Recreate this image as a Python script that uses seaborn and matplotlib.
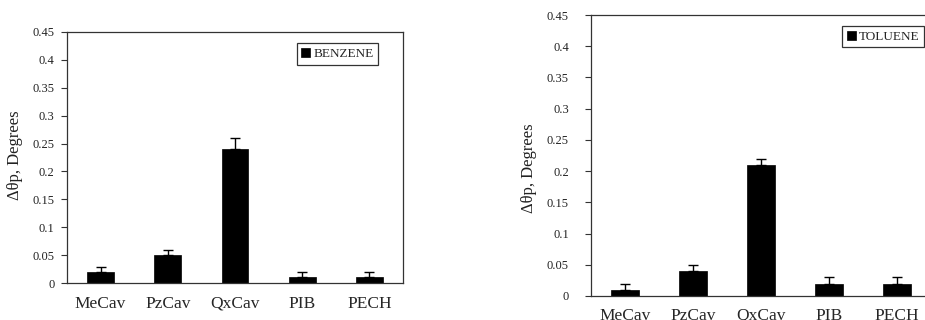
import numpy as np
import pandas as pd
import matplotlib
matplotlib.use("Agg")
import matplotlib.pyplot as plt
import seaborn as sns

categories = ["MeCav", "PzCav", "QxCav", "PIB", "PECH"]
benzene_vals = [0.02, 0.05, 0.24, 0.01, 0.01]
benzene_err = [0.008, 0.01, 0.02, 0.009, 0.009]
toluene_vals = [0.01, 0.04, 0.21, 0.02, 0.02]
toluene_err = [0.01, 0.01, 0.01, 0.01, 0.01]
yticks = [0, 0.05, 0.1, 0.15, 0.2, 0.25, 0.3, 0.35, 0.4, 0.45]
ytick_labels = ["0", "0.05", "0.1", "0.15", "0.2", "0.25", "0.3", "0.35", "0.4", "0.45"]
ylabel = "Δθp, Degrees"

sns.set_style("white")
plt.rcParams["font.family"] = ["Liberation Serif", "DejaVu Serif"]

fig = plt.figure(figsize=(9.25, 3.2), dpi=100)
ax1 = fig.add_axes([67/925, 37/320, 336/925, 251/320])
ax2 = fig.add_axes([591/925, 24/320, 340/925, 281/320])


def draw(ax, vals, err, name, legend_anchor, ypad, xpad, label_xy):
    df = pd.DataFrame({"cat": categories, "val": vals, "series": name})
    sns.barplot(data=df, x="cat", y="val", hue="series", palette=["black"],
                width=0.4, ax=ax, saturation=1, edgecolor="black", linewidth=0.5)
    xs = np.arange(len(categories))
    ax.errorbar(xs, vals, yerr=[np.zeros(len(vals)), err], fmt="none",
                ecolor="black", elinewidth=1, capsize=3.5, capthick=1)
    ax.set_xlim(-0.5, len(categories) - 0.5)
    ax.set_ylim(0, 0.45)
    ax.set_yticks(yticks)
    ax.set_yticklabels(ytick_labels, fontsize=9, color="#222222")
    ax.set_xticks(xs)
    ax.set_xticklabels(categories, fontsize=12.5)
    for lab in ax.get_xticklabels():
        lab.set_va("baseline")
    ax.set_xticks(np.arange(-0.5, len(categories) + 0.5, 1.0), minor=True)
    ax.tick_params(axis="x", which="major", length=0, pad=xpad)
    ax.tick_params(axis="x", which="minor", length=4, width=0.8, direction="out", color="#333333")
    ax.tick_params(axis="y", which="major", length=4, width=0.8, direction="out", left=True,
                   color="#333333", pad=ypad)
    ax.set_xlabel("")
    ax.set_ylabel(ylabel, fontsize=12, color="#222222")
    ax.yaxis.set_label_coords(*label_xy)
    for s in ax.spines.values():
        s.set_visible(True)
        s.set_color("#333333")
        s.set_linewidth(0.9)
    leg = ax.legend(loc="upper right", bbox_to_anchor=legend_anchor, frameon=True,
                    fancybox=False, edgecolor="black", fontsize=9.5,
                    handlelength=0.7, handleheight=0.7, handletextpad=0.2,
                    borderpad=0.35, borderaxespad=0)
    leg.get_frame().set_linewidth(0.9)


draw(ax1, benzene_vals, benzene_err, "BENZENE", (0.9256, 0.956), 5, 18, (-0.131, 0.51))
draw(ax2, toluene_vals, toluene_err, "TOLUENE", (0.979, 0.961), 12, 17, (-0.159, 0.455))

fig.savefig("out.png", dpi=100)
